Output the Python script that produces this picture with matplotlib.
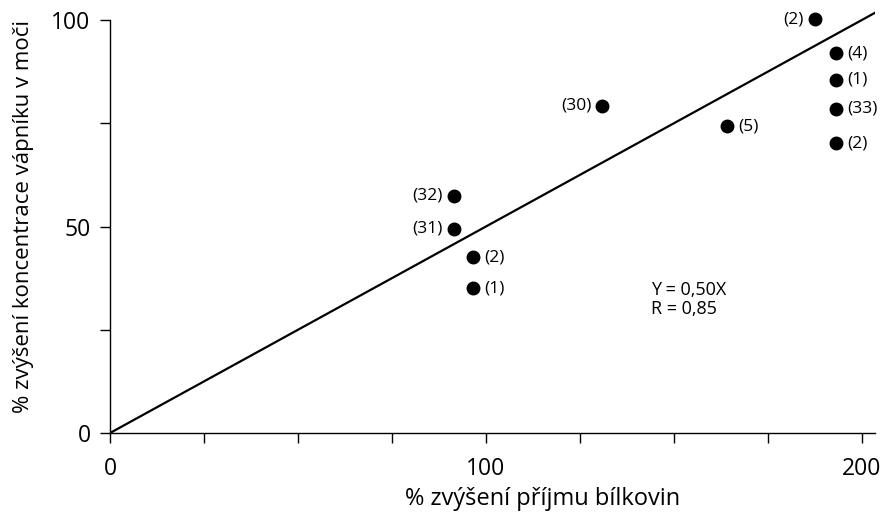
import matplotlib.pyplot as plt
import numpy as np

plt.rcParams['font.family'] = ['Open Sans', 'DejaVu Sans']

# data
x_vals = [187.5, 193, 193, 193, 193, 131, 164, 91.5, 91.5, 96.5, 96.5]
y_vals = [100.2, 92, 85.5, 78.5, 70.2, 79.2, 74.3, 57.4, 49.4, 42.6, 35.1]
labels = ['(2)', '(4)', '(1)', '(33)', '(2)', '(30)', '(5)', '(32)', '(31)', '(2)', '(1)']
label_left = [True, False, False, False, False, True, False, True, True, False, False]
slope = 0.50
r_value = 0.85

fig = plt.figure(figsize=(8.86, 5.2), dpi=100)
ax = fig.add_axes([0.1242, 0.1673, 0.8634, 0.826])
ax.set_xlim(0, 203.5)
ax.set_ylim(0, 104)

# regression line through origin
xl = np.array([0, 210])
ax.plot(xl, slope * xl, color='black', lw=1.6)

ax.plot(x_vals, y_vals, 'o', color='black', ms=9, zorder=3)
for x, y, t, left in zip(x_vals, y_vals, labels, label_left):
    if left:
        ax.text(x - 3.0, y, t, ha='right', va='center', fontsize=12.5)
    else:
        ax.text(x + 3.0, y, t, ha='left', va='center', fontsize=12.5)

ax.text(144, 34.6, 'Y = 0,50X', fontsize=13, va='center')
ax.text(144, 30.0, 'R = 0,85', fontsize=13, va='center')

ax.spines['top'].set_visible(False)
ax.spines['right'].set_visible(False)
ax.spines['left'].set_bounds(0, 100)
ax.spines['left'].set_linewidth(1.0)
ax.spines['bottom'].set_linewidth(1.0)

ax.set_xticks(np.arange(0, 201, 25))
ax.set_xticklabels(['0', '', '', '', '100', '', '', '', '200'])
ax.set_yticks([0, 25, 50, 75, 100])
ax.set_yticklabels(['0', '', '50', '', '100'])
ax.tick_params(axis='both', direction='out', length=7, width=1.0, labelsize=16.5)
ax.tick_params(axis='x', pad=10)
ax.tick_params(axis='y', pad=7)

ax.set_xlabel('% zvýšení příjmu bílkovin', fontsize=17)
ax.set_ylabel('% zvýšení koncentrace vápníku v moči', fontsize=16)
ax.xaxis.set_label_coords(0.566, -0.125)
ax.yaxis.set_label_coords(-0.1, 0.505)

fig.savefig('out.png', dpi=100)
